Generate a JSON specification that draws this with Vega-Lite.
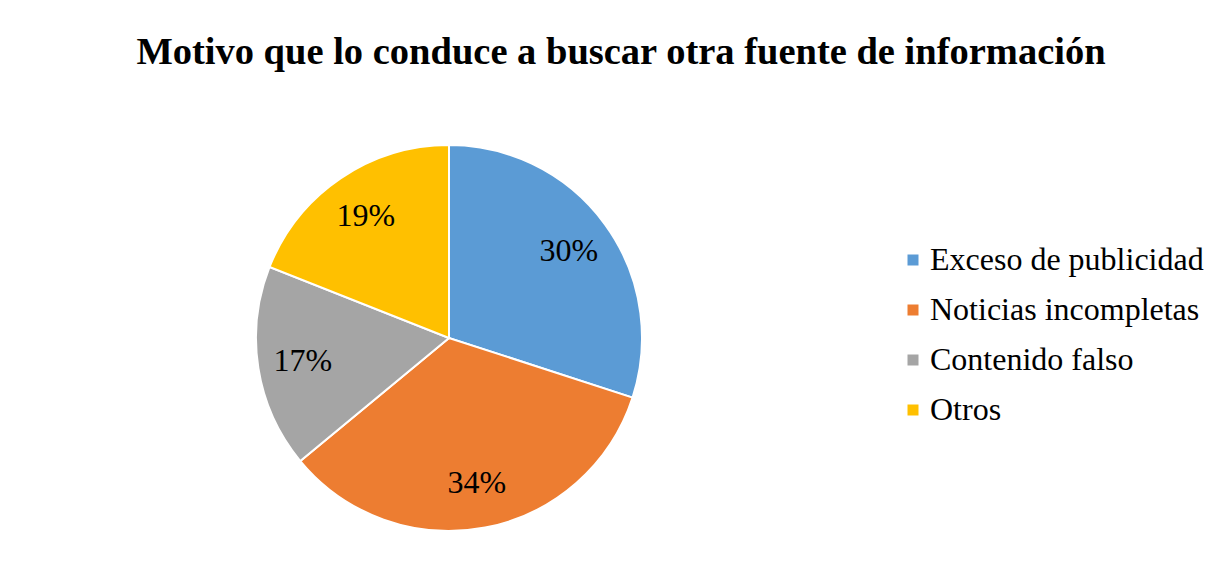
{
  "$schema": "https://vega.github.io/schema/vega-lite/v6.json",
  "autosize": {"type": "none"},
  "width": 886,
  "height": 476,
  "padding": {"left": 6, "top": 100, "right": 334, "bottom": 5},
  "background": "white",
  "title": {
    "text": "Motivo que lo conduce a buscar otra fuente de información",
    "font": "Liberation Serif",
    "fontSize": 38.5,
    "fontWeight": "bold",
    "color": "black",
    "anchor": "middle",
    "dx": 172,
    "offset": 28
  },
  "data": {
    "values": [
      {"motivo": "Exceso de publicidad", "valor": 0.30, "orden": 1},
      {"motivo": "Noticias incompletas", "valor": 0.34, "orden": 2},
      {"motivo": "Contenido falso", "valor": 0.17, "orden": 3},
      {"motivo": "Otros", "valor": 0.19, "orden": 4}
    ]
  },
  "encoding": {
    "theta": {"field": "valor", "type": "quantitative", "stack": true},
    "order": {"field": "orden", "type": "quantitative"},
    "color": {
      "field": "motivo",
      "type": "nominal",
      "sort": null,
      "scale": {
        "domain": ["Exceso de publicidad", "Noticias incompletas", "Contenido falso", "Otros"],
        "range": ["#5B9BD5", "#ED7D31", "#A5A5A5", "#FFC000"]
      },
      "legend": {
        "title": null,
        "orient": "none",
        "legendX": 891,
        "legendY": 144,
        "symbolType": "square",
        "symbolSize": 121,
        "symbolStrokeWidth": 0,
        "labelFont": "Liberation Serif",
        "labelFontSize": 32,
        "labelColor": "black",
        "labelOffset": 1,
        "rowPadding": 18,
        "labelLimit": 400
      }
    }
  },
  "layer": [
    {
      "mark": {"type": "arc", "outerRadius": 193, "stroke": "white", "strokeWidth": 2}
    },
    {
      "mark": {"type": "text", "radius": 148, "font": "Liberation Serif", "fontSize": 32, "color": "black"},
      "encoding": {
        "text": {"field": "valor", "type": "quantitative", "format": ".0%"},
        "color": {"value": "black"}
      }
    }
  ],
  "config": {"view": {"stroke": null}}
}
